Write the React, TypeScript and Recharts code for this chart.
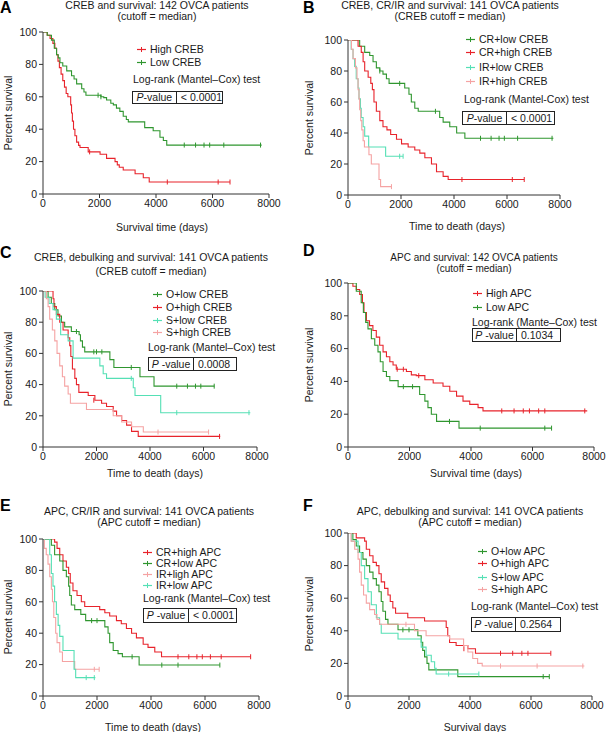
import React from 'react';
import { ComposedChart, Line, Scatter, XAxis, YAxis } from 'recharts';

type Pt = [number, number];

const xTicks = [0, 2000, 4000, 6000, 8000];
const yTicks = [0, 20, 40, 60, 80, 100];

const RED = '#e8232b';
const GREEN = '#2f962f';
const CYAN = '#55e0b5';
const PINK = '#f5a3a3';

// Panel A
const aHighSteps: Pt[] = [[0, 100], [150, 98], [250, 96], [350, 93], [420, 90], [480, 86], [530, 82], [580, 78], [640, 74], [700, 70], [760, 66], [820, 62], [880, 60], [980, 55], [1010, 50], [1040, 45], [1080, 40], [1130, 36], [1190, 32], [1260, 30], [1310, 28.7], [1600, 26], [2020, 24.5], [2250, 22], [2550, 20], [2630, 18], [2700, 16.5], [2840, 14.8], [3260, 12.5], [3550, 10], [3760, 7.4], [6620, 7.4]];
const aHighCens: Pt[] = [[1650, 26], [4400, 7.4], [6200, 7.4], [6620, 7.4]];
const aLowSteps: Pt[] = [[0, 100], [150, 98], [300, 95], [400, 90], [480, 86], [540, 84], [600, 81], [700, 79], [840, 76], [1010, 73], [1100, 71], [1190, 68], [1370, 65], [1450, 63], [1520, 61], [2050, 60], [2150, 59.5], [2250, 58], [2400, 56], [2490, 55], [2600, 53], [2720, 51], [2840, 48], [2950, 46], [3020, 44.5], [3600, 41], [3900, 39], [4140, 35], [4260, 33], [4380, 30.2], [7740, 30.2]];
const aLowCens: Pt[] = [[1950, 61], [2050, 60], [5000, 30.2], [5400, 30.2], [5700, 30.2], [5900, 30.2], [6400, 30.2], [7700, 30.2]];

// Panel B
const bCrLowSteps: Pt[] = [[0, 100], [300, 100], [440, 96], [630, 92], [820, 90], [945, 86], [1070, 82], [1200, 80], [1320, 78], [1450, 75], [1550, 72], [2080, 72], [2140, 69], [2300, 65], [2390, 60], [2520, 56], [2650, 54], [3400, 54], [3460, 50], [3590, 47], [3840, 44], [4100, 40], [4410, 36.6], [7750, 36.6]];
const bCrLowCens: Pt[] = [[1200, 80], [1950, 72], [3300, 54], [5000, 36.6], [5400, 36.6], [5700, 36.6], [5900, 36.6], [6400, 36.6], [7700, 36.6]];
const bCrHighSteps: Pt[] = [[0, 100], [250, 100], [380, 96], [500, 92], [570, 86], [630, 80], [760, 76], [860, 72], [920, 68], [980, 60], [1070, 54], [1200, 48], [1320, 44], [1470, 42], [1610, 39], [1830, 36], [2020, 33], [2270, 31], [2520, 29], [2710, 27], [2900, 24], [3150, 20], [3340, 15], [3590, 12], [3780, 10], [6650, 10]];
const bCrHighCens: Pt[] = [[4300, 10], [6200, 10], [6650, 10]];
const bIrLowSteps: Pt[] = [[0, 100], [120, 94], [190, 88], [250, 83], [310, 75], [380, 69], [415, 62], [470, 56], [500, 50], [570, 44], [630, 38], [780, 31], [1420, 25], [2080, 25]];
const bIrLowCens: Pt[] = [[1950, 25], [2080, 25]];
const bIrHighSteps: Pt[] = [[0, 100], [130, 94], [190, 88], [280, 82], [340, 75], [380, 68], [415, 62], [440, 55], [480, 48], [520, 42], [570, 35], [620, 31], [790, 26], [880, 20], [1170, 10], [1230, 5.4], [1640, 5.4]];
const bIrHighCens: Pt[] = [[1640, 5.4]];

// Panel C
const cOLowSteps: Pt[] = [[0, 100], [100, 100], [190, 96], [310, 92], [440, 88], [560, 84], [690, 80], [810, 77], [1060, 74], [1350, 72], [1400, 68], [1475, 64], [1560, 61], [2440, 61], [2500, 56], [2650, 51], [3500, 51], [3625, 45], [4150, 39], [6410, 39]];
const cOLowCens: Pt[] = [[1250, 74], [1900, 61], [2000, 61], [2200, 61], [3300, 51], [5000, 39], [5400, 39], [5700, 39], [5900, 39], [6400, 39]];
const cOHighSteps: Pt[] = [[0, 100], [250, 100], [375, 95], [410, 90], [500, 85], [625, 80], [750, 75], [940, 70], [1000, 65], [1040, 58], [1100, 50], [1190, 44], [1250, 40], [1340, 35], [1690, 33], [1940, 30], [2190, 28], [2375, 26], [2625, 23], [2750, 20], [2940, 17], [3125, 14], [3310, 10], [3560, 6.8], [6625, 6.8]];
const cOHighCens: Pt[] = [[1900, 30], [6600, 6.8]];
const cSLowSteps: Pt[] = [[0, 100], [80, 96], [225, 92], [375, 88], [500, 82], [660, 72], [940, 68], [1125, 57], [2060, 57], [2125, 52], [2250, 47], [2375, 44], [3310, 44], [3375, 38], [3440, 33], [4310, 33], [4400, 22], [7750, 22]];
const cSLowCens: Pt[] = [[3300, 44], [5000, 22], [7700, 22]];
const cSHighSteps: Pt[] = [[0, 100], [125, 95], [190, 90], [250, 82], [350, 75], [440, 68], [525, 60], [625, 52], [725, 45], [810, 39], [940, 34], [1025, 28], [1560, 28], [1625, 24], [2375, 24], [2625, 20], [2940, 16], [3310, 13], [3750, 9.6], [6190, 9.6]];
const cSHighCens: Pt[] = [[4300, 9.6], [6190, 9.6]];

// Panel D
const dHighSteps: Pt[] = [[0, 100], [160, 98], [270, 96], [380, 93], [470, 88], [520, 82], [600, 77], [700, 74], [810, 71], [920, 67], [1030, 62], [1140, 58], [1250, 55], [1360, 52], [1465, 50], [1570, 47.4], [1900, 46], [2060, 44], [2220, 43.5], [2500, 41], [2770, 39], [3090, 37], [3310, 34], [3530, 31], [3740, 28], [3960, 26], [4230, 24], [4390, 22], [7780, 22]];
const dHighCens: Pt[] = [[1600, 47.4], [1800, 47.4], [2300, 43.5], [5000, 22], [5400, 22], [5700, 22], [5900, 22], [6200, 22], [6400, 22], [7700, 22]];
const dLowSteps: Pt[] = [[0, 100], [200, 100], [270, 95], [430, 88], [500, 82], [575, 76], [650, 72], [760, 66], [870, 62], [975, 58], [1050, 52], [1140, 46], [1250, 43], [1360, 40.5], [1630, 36.8], [2330, 32], [2500, 28], [2600, 24], [2710, 20], [2880, 15.6], [3610, 11.5], [6620, 11.5]];
const dLowCens: Pt[] = [[1800, 36.8], [2100, 36.8], [3300, 15.6], [4300, 11.5], [6400, 11.5], [6620, 11.5]];

// Panel E
const eCrHighSteps: Pt[] = [[0, 100], [400, 100], [430, 98], [520, 94], [620, 90], [740, 86], [865, 82], [950, 78], [1010, 72], [1110, 67], [1260, 64], [1420, 60], [1545, 57], [1980, 57], [2100, 55], [2290, 53], [2470, 51], [2720, 48], [2900, 46], [3090, 43], [3280, 40], [3460, 37], [3710, 33], [3890, 31], [4140, 28], [4390, 25], [7690, 25]];
const eCrHighCens: Pt[] = [[5000, 25], [5400, 25], [5700, 25], [5900, 25], [6200, 25], [6600, 25], [7690, 25]];
const eCrLowSteps: Pt[] = [[0, 100], [100, 100], [310, 96], [430, 90], [620, 86], [740, 80], [865, 76], [950, 70], [990, 64], [1050, 58], [1175, 55], [1400, 52], [1580, 48], [2160, 48], [2290, 44], [2410, 40], [2470, 34], [2600, 29], [2780, 27], [2940, 25], [3560, 19.7], [6550, 19.7]];
const eCrLowCens: Pt[] = [[1800, 48], [2000, 48], [3300, 25], [4400, 19.7], [5000, 19.7], [6550, 19.7]];
const eIrHighSteps: Pt[] = [[0, 100], [50, 94], [120, 90], [185, 84], [250, 76], [310, 68], [350, 60], [400, 50], [470, 40], [520, 34], [620, 28], [720, 22], [1175, 17], [2080, 17]];
const eIrHighCens: Pt[] = [[1900, 17], [2080, 17]];
const eIrLowSteps: Pt[] = [[0, 100], [185, 100], [250, 90], [310, 78], [370, 70], [430, 60], [495, 52], [560, 45], [620, 38], [740, 29], [1150, 17], [1210, 11.7], [1940, 11.7]];
const eIrLowCens: Pt[] = [[1600, 11.7], [1900, 11.7]];

// Panel F
const fOLowSteps: Pt[] = [[0, 100], [160, 96], [270, 92], [380, 88], [490, 84], [600, 80], [710, 76], [820, 72], [930, 68], [1015, 64], [1090, 58], [1145, 52], [1230, 47], [1310, 44], [1640, 40.6], [2290, 37], [2400, 33], [2450, 28], [2510, 24], [2590, 20], [2650, 16], [3600, 11.9], [6600, 11.9]];
const fOLowCens: Pt[] = [[1800, 40.6], [2000, 40.6], [6400, 11.9], [6600, 11.9]];
const fOHighSteps: Pt[] = [[0, 100], [270, 97], [545, 95], [600, 90], [710, 86], [820, 82], [930, 80], [1015, 75], [1090, 70], [1200, 66], [1310, 62], [1385, 58], [1470, 54], [1560, 50.8], [1960, 48], [2510, 46], [3220, 42], [3270, 37], [3330, 32.8], [3545, 31], [3930, 29], [4180, 26.2], [6650, 26.2]];
const fOHighCens: Pt[] = [[3800, 29], [5000, 26.2], [5400, 26.2], [5700, 26.2], [5900, 26.2], [6650, 26.2]];
const fSLowSteps: Pt[] = [[0, 100], [120, 95], [330, 88], [435, 80], [545, 72], [655, 64], [765, 56], [930, 48], [1035, 44], [1090, 38.5], [1640, 35], [2400, 30], [2560, 25], [2730, 21], [2840, 17], [2890, 13.5], [4290, 13.5]];
const fSLowCens: Pt[] = [[3300, 13.5], [4290, 13.5]];
const fSHighSteps: Pt[] = [[0, 100], [100, 95], [220, 90], [330, 84], [380, 76], [435, 68], [510, 62], [600, 57], [710, 53], [870, 50], [950, 47], [1035, 44], [2180, 40], [2560, 37], [3330, 35], [3790, 31], [3930, 27], [4090, 23], [4250, 20], [4400, 18.4], [7750, 18.4]];
const fSHighCens: Pt[] = [[1900, 44], [5000, 18.4], [6200, 18.4], [7700, 18.4]];

interface Series {
  name: string;
  color: string;
  steps: Pt[];
  cens: Pt[];
}

interface PanelDef {
  letter: string;
  letterX: number;
  letterY: number;
  x0: number;
  x1: number;
  yT: number;
  yB: number;
  title: [string, string];
  titleX: number;
  titleY: [number, number];
  titleSize?: number;
  xLabel: string;
  xLabelPos: [number, number];
  yLabelPos: [number, number];
  series: Series[];
  legendX: number;
  legendY: number[];
  logrank: string;
  logrankPos: [number, number];
  pLabel: string;
  pValue: string;
  box: { x: number; y: number; w: number; h: number; d: number };
}

const panels: PanelDef[] = [
  {
    letter: 'A', letterX: 0, letterY: 0, x0: 43, x1: 269, yT: 32, yB: 194,
    title: ['CREB and survival: 142 OVCA patients', '(cutoff = median)'], titleX: 157, titleY: [6, 17],
    xLabel: 'Survival time (days)', xLabelPos: [162, 227], yLabelPos: [8, 113],
    series: [
      { name: 'High CREB', color: RED, steps: aHighSteps, cens: aHighCens },
      { name: 'Low CREB', color: GREEN, steps: aLowSteps, cens: aLowCens },
    ],
    legendX: 137, legendY: [49, 62],
    logrank: 'Log-rank (Mantel\u2013Cox) test', logrankPos: [133, 79],
    pLabel: '-value', pValue: '< 0.0001', box: { x: 132, y: 91, w: 91, h: 13, d: 44 },
  },
  {
    letter: 'B', letterX: 303, letterY: 0, x0: 348, x1: 560, yT: 40, yB: 195,
    title: ['CREB, CR/IR and survival: 141 OVCA  patients', '(CREB cutoff = median)'], titleX: 450, titleY: [6, 17],
    xLabel: 'Time to death (days)', xLabelPos: [457, 226], yLabelPos: [309, 118],
    series: [
      { name: 'CR+low CREB', color: GREEN, steps: bCrLowSteps, cens: bCrLowCens },
      { name: 'CR+high CREB', color: RED, steps: bCrHighSteps, cens: bCrHighCens },
      { name: 'IR+low CREB', color: CYAN, steps: bIrLowSteps, cens: bIrLowCens },
      { name: 'IR+high CREB', color: PINK, steps: bIrHighSteps, cens: bIrHighCens },
    ],
    legendX: 466, legendY: [39, 52, 67, 81],
    logrank: 'Log-rank (Mantel-Cox) test', logrankPos: [464, 99],
    pLabel: '-value', pValue: '< 0.0001', box: { x: 462, y: 111, w: 93, h: 14, d: 44 },
  },
  {
    letter: 'C', letterX: 0, letterY: 245, x0: 43, x1: 257, yT: 291, yB: 447,
    title: ['CREB, debulking and survival: 141 OVCA patients', '(CREB cutoff = median)'], titleX: 151, titleY: [258, 272],
    xLabel: 'Time to death (days)', xLabelPos: [155, 473], yLabelPos: [8, 369],
    series: [
      { name: 'O+low CREB', color: GREEN, steps: cOLowSteps, cens: cOLowCens },
      { name: 'O+high CREB', color: RED, steps: cOHighSteps, cens: cOHighCens },
      { name: 'S+low CREB', color: CYAN, steps: cSLowSteps, cens: cSLowCens },
      { name: 'S+high CREB', color: PINK, steps: cSHighSteps, cens: cSHighCens },
    ],
    legendX: 153, legendY: [294, 307, 320, 332],
    logrank: 'Log-rank (Mantel\u2013Cox) test', logrankPos: [148, 347],
    pLabel: ' -value', pValue: '0.0008', box: { x: 148, y: 357, w: 89, h: 14, d: 45 },
  },
  {
    letter: 'D', letterX: 303, letterY: 243, x0: 348, x1: 594, yT: 283, yB: 447,
    title: ['APC and survival: 142 OVCA patients', '(cutoff = median)'], titleX: 474, titleY: [257, 268], titleSize: 10,
    xLabel: 'Survival time (days)', xLabelPos: [476, 473], yLabelPos: [309, 365],
    series: [
      { name: 'High APC', color: RED, steps: dHighSteps, cens: dHighCens },
      { name: 'Low APC', color: GREEN, steps: dLowSteps, cens: dLowCens },
    ],
    legendX: 473, legendY: [293, 307],
    logrank: 'Log-rank (Mante\u2013Cox) test', logrankPos: [472, 322],
    pLabel: ' -value', pValue: '0.1034', box: { x: 472, y: 328, w: 89, h: 14, d: 44 },
  },
  {
    letter: 'E', letterX: 0, letterY: 498, x0: 43, x1: 259, yT: 539, yB: 696,
    title: ['APC, CR/IR and survival: 141 OVCA patients', '(APC cutoff = median)'], titleX: 149, titleY: [512, 523],
    xLabel: 'Time to death (days)', xLabelPos: [153, 727], yLabelPos: [8, 617],
    series: [
      { name: 'CR+high APC', color: RED, steps: eCrHighSteps, cens: eCrHighCens },
      { name: 'CR+low APC', color: GREEN, steps: eCrLowSteps, cens: eCrLowCens },
      { name: 'IR+ligh APC', color: PINK, steps: eIrHighSteps, cens: eIrHighCens },
      { name: 'IR+low APC', color: CYAN, steps: eIrLowSteps, cens: eIrLowCens },
    ],
    legendX: 143, legendY: [552, 563, 574, 585],
    logrank: 'Log-rank (Mantel\u2013Cox) test', logrankPos: [143, 598],
    pLabel: ' -value', pValue: '< 0.0001', box: { x: 143, y: 608, w: 94, h: 15, d: 45 },
  },
  {
    letter: 'F', letterX: 303, letterY: 498, x0: 348, x1: 592, yT: 533, yB: 696,
    title: ['APC, debulking and survival: 141 OVCA patients', '(APC cutoff = median)'], titleX: 470, titleY: [512, 523],
    xLabel: 'Survival days', xLabelPos: [475, 727], yLabelPos: [309, 614],
    series: [
      { name: 'O+low APC', color: GREEN, steps: fOLowSteps, cens: fOLowCens },
      { name: 'O+high APC', color: RED, steps: fOHighSteps, cens: fOHighCens },
      { name: 'S+low APC', color: CYAN, steps: fSLowSteps, cens: fSLowCens },
      { name: 'S+high APC', color: PINK, steps: fSHighSteps, cens: fSHighCens },
    ],
    legendX: 478, legendY: [551, 563, 577, 589],
    logrank: 'Log-rank (Mantel\u2013Cox) test', logrankPos: [471, 606],
    pLabel: ' -value', pValue: '0.2564', box: { x: 471, y: 617, w: 90, h: 15, d: 44 },
  },
];

const FONT = '"Liberation Sans", Arial, Helvetica, sans-serif';
const FS = 10.5;
const INK = '#1a1a1a';

const rows = (pts: Pt[]) => pts.map(([t, s]) => ({ t, s }));

const censorShape = (color: string) => (props: any) => {
  const { cx, cy } = props;
  if (cx == null || cy == null) return <g />;
  return <line x1={cx} x2={cx} y1={cy - 2.5} y2={cy + 2.5} stroke={color} strokeWidth={1} />;
};

function Panel({ p }: { p: PanelDef }) {
  const YW = 36;
  const XH = 22;
  const MT = 8;
  const MR = 14;
  const w = p.x1 - p.x0;
  const h = p.yB - p.yT;
  const txt: React.CSSProperties = { position: 'absolute', whiteSpace: 'nowrap', fontSize: FS, lineHeight: '12px', color: INK };
  const ts = p.titleSize ?? FS;
  return (
    <>
      <div style={{ position: 'absolute', left: p.x0 - YW, top: p.yT - MT }}>
        <ComposedChart width={w + YW + MR} height={h + MT + XH} margin={{ top: MT, right: MR, bottom: 0, left: 0 }}>
          <XAxis
            type="number"
            dataKey="t"
            domain={[0, 8000]}
            ticks={xTicks}
            interval={0}
            height={XH}
            tickSize={4}
            tick={{ fontSize: FS, fill: INK, fontFamily: FONT }}
            axisLine={{ stroke: '#333' }}
            tickLine={{ stroke: '#333' }}
            allowDataOverflow
          />
          <YAxis
            type="number"
            dataKey="s"
            domain={[0, 100]}
            ticks={yTicks}
            interval={0}
            width={YW}
            tickSize={4}
            tick={{ fontSize: FS, fill: INK, fontFamily: FONT }}
            axisLine={{ stroke: '#333' }}
            tickLine={{ stroke: '#333' }}
            allowDataOverflow
          />
          {p.series.map((s) => (
            <Line
              key={s.name}
              data={rows(s.steps)}
              dataKey="s"
              type="stepAfter"
              stroke={s.color}
              strokeWidth={1.1}
              dot={false}
              activeDot={false}
              isAnimationActive={false}
            />
          ))}
          {p.series.map((s) => (
            <Scatter
              key={s.name + '-c'}
              data={rows(s.cens)}
              dataKey="s"
              shape={censorShape(s.color)}
              isAnimationActive={false}
            />
          ))}
        </ComposedChart>
      </div>
      <div style={{ ...txt, left: p.letterX, top: p.letterY, fontSize: 16, fontWeight: 'bold', lineHeight: '16px', color: '#000' }}>{p.letter}</div>
      {p.title.map((t, i) => (
        <div key={i} style={{ ...txt, left: p.titleX - 150, width: 300, textAlign: 'center', top: p.titleY[i] - ts / 2 - 0.5, fontSize: ts, lineHeight: `${ts + 1}px` }}>{t}</div>
      ))}
      <div style={{ ...txt, left: p.xLabelPos[0], top: p.xLabelPos[1], transform: 'translate(-50%, -50%)' }}>{p.xLabel}</div>
      <div style={{ ...txt, left: p.yLabelPos[0], top: p.yLabelPos[1], transform: 'translate(-50%, -50%) rotate(-90deg)' }}>Percent survival</div>
      {p.series.map((s, i) => (
        <div key={s.name} style={{ ...txt, left: p.legendX, top: p.legendY[i] - 6, display: 'flex', alignItems: 'center' }}>
          <svg width={9} height={12} style={{ marginRight: 4 }}>
            <line x1={0} x2={9} y1={6.5} y2={6.5} stroke={s.color} strokeWidth={1.2} />
            <line x1={4.5} x2={4.5} y1={4} y2={9} stroke={s.color} strokeWidth={1} />
          </svg>
          <span>{s.name}</span>
        </div>
      ))}
      <div style={{ ...txt, left: p.logrankPos[0], top: p.logrankPos[1] - 6 }}>{p.logrank}</div>
      <div
        style={{
          position: 'absolute', left: p.box.x, top: p.box.y, width: p.box.w, height: p.box.h,
          border: '1px solid #222', boxSizing: 'border-box', display: 'flex', fontSize: FS, color: INK,
          lineHeight: `${p.box.h - 2}px`, whiteSpace: 'nowrap',
        }}
      >
        <div style={{ width: p.box.d, borderRight: '1px solid #222', textAlign: 'center', boxSizing: 'border-box' }}>
          <i>P</i>{p.pLabel}
        </div>
        <div style={{ flex: 1, paddingLeft: 4 }}>{p.pValue}</div>
      </div>
    </>
  );
}

export default function App() {
  return (
    <div style={{ position: 'absolute', left: 0, top: 0, width: 607, height: 732, background: '#fff', fontFamily: FONT, overflow: 'hidden' }}>
      {panels.map((p) => (
        <Panel key={p.letter} p={p} />
      ))}
    </div>
  );
}
